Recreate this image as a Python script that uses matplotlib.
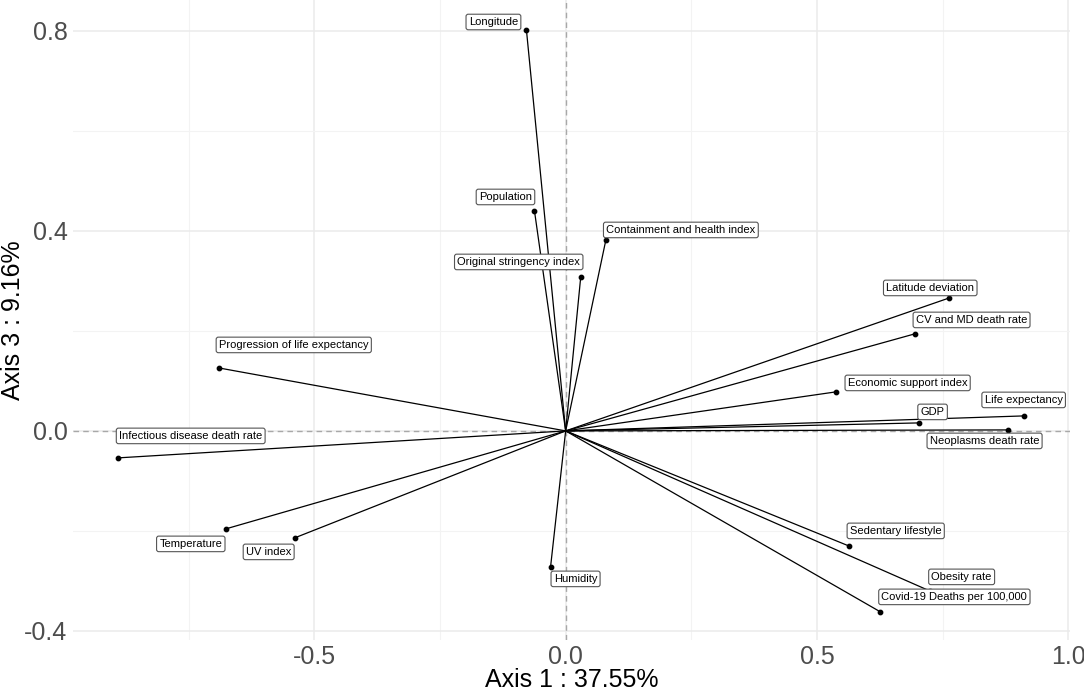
import matplotlib.pyplot as plt
import numpy as np

plt.rcParams['font.family'] = ['Liberation Sans', 'DejaVu Sans']

# variable loadings on axis 1 and axis 3
variables = ['Longitude', 'Population', 'Original stringency index', 'Containment and health index',
             'Latitude deviation', 'CV and MD death rate', 'Economic support index', 'Life expectancy',
             'GDP', 'Neoplasms death rate', 'Sedentary lifestyle', 'Obesity rate',
             'Covid-19 Deaths per 100,000', 'Progression of life expectancy', 'Infectious disease death rate',
             'Temperature', 'UV index', 'Humidity']
axis1 = [-0.078, -0.062, 0.030, 0.080, 0.763, 0.694, 0.537, 0.911, 0.702, 0.879,
         0.563, 0.724, 0.626, -0.690, -0.891, -0.676, -0.539, -0.030]
axis3 = [0.802, 0.440, 0.308, 0.382, 0.266, 0.194, 0.078, 0.030, 0.016, 0.002,
         -0.230, -0.320, -0.362, 0.126, -0.054, -0.196, -0.214, -0.272]

# label placement (offset in pixels from the point)
label_offsets = [(-33, 8), (-29, 14), (-62, 15), (75, 10), (-19, 10), (57, 14), (72, 9), (0, 16),
                 (14, 11), (-23, -11), (47, 15), (32, 14), (74, 15), (75, 23), (73, 22),
                 (-35, -15), (-26, -14), (25, -12)]

fig = plt.figure(figsize=(10.84, 6.91), dpi=100)
ax = fig.add_axes([0.0673, 0.074, 0.9197, 0.926])

ax.set_xlim(-0.98, 1.003)
ax.set_ylim(-0.418, 0.862)

# grid like theme_minimal
ax.set_xticks([-0.5, 0.0, 0.5, 1.0])
ax.set_xticklabels(['-0.5', '0.0', '0.5', '1.0'])
ax.set_yticks([-0.4, 0.0, 0.4, 0.8])
ax.set_yticklabels(['-0.4', '0.0', '0.4', '0.8'])
ax.set_xticks([-0.75, -0.25, 0.25, 0.75], minor=True)
ax.set_yticks([-0.2, 0.2, 0.6], minor=True)
ax.grid(which='major', color='#EBEBEB', linewidth=1.1)
ax.grid(which='minor', color='#F3F3F3', linewidth=0.8)
ax.set_axisbelow(True)
for s in ax.spines.values():
    s.set_visible(False)
ax.tick_params(which='both', length=0, labelsize=18, labelcolor='#4D4D4D')
ax.tick_params(axis='x', pad=4)
ax.tick_params(axis='y', pad=4)

ax.axhline(0, color='#A8A8A8', linestyle=(0, (4, 3)), linewidth=1, zorder=1)
ax.axvline(0, color='#A8A8A8', linestyle=(0, (4, 3)), linewidth=1, zorder=1)

for x, y in zip(axis1, axis3):
    ax.plot([0, x], [0, y], color='black', linewidth=0.9, zorder=2)
ax.scatter(axis1, axis3, s=10, color='black', zorder=3)

for name, x, y, off in zip(variables, axis1, axis3, label_offsets):
    ax.annotate(name, (x, y), xytext=off, textcoords='offset pixels', ha='center', va='center',
                fontsize=8, zorder=4,
                bbox=dict(boxstyle='round,pad=0.25,rounding_size=0.2', facecolor='white',
                          edgecolor='#555555', linewidth=0.8))

ax.set_xlabel('Axis 1 : 37.55%', fontsize=18)
ax.xaxis.set_label_coords(0.5, -0.044)
ax.set_ylabel('Axis 3 : 9.16%', fontsize=18)
ax.yaxis.set_label_coords(-0.048, 0.5)

fig.savefig('out.png', dpi=100)
